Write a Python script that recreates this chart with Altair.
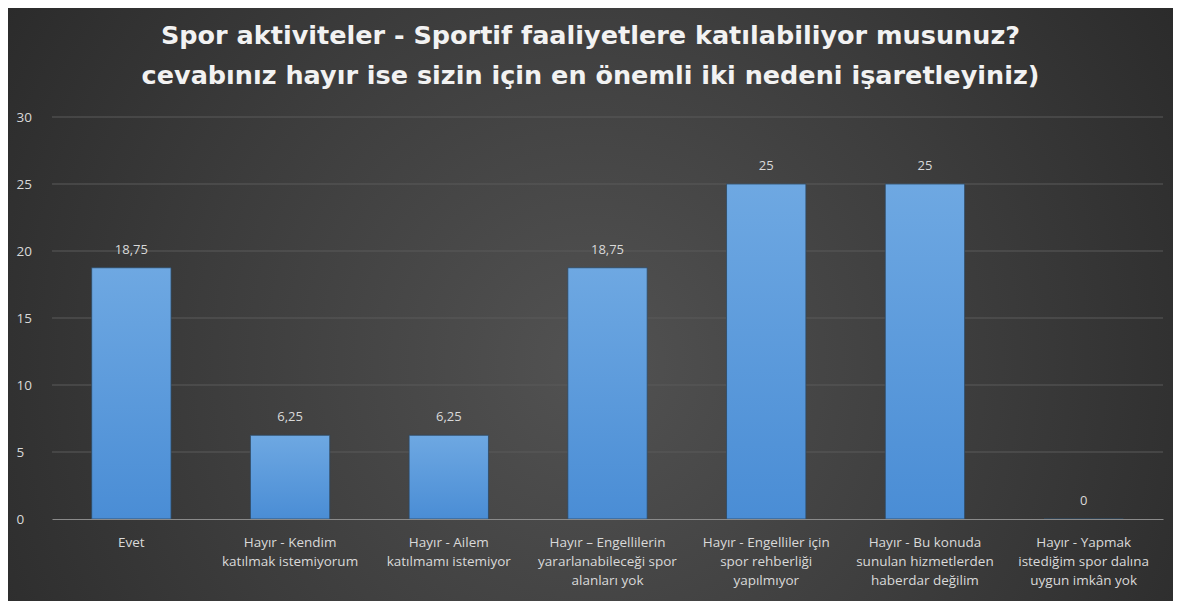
import altair as alt
import pandas as pd

# ---- data ----
categories = [
    "Evet",
    "Hayır - Kendim|katılmak istemiyorum",
    "Hayır - Ailem|katılmamı istemiyor",
    "Hayır – Engellilerin|yararlanabileceği spor|alanları yok",
    "Hayır - Engelliler için|spor rehberliği|yapılmıyor",
    "Hayır - Bu konuda|sunulan hizmetlerden|haberdar değilim",
    "Hayır - Yapmak|istediğim spor dalına|uygun imkân yok",
]
values = [18.75, 6.25, 6.25, 18.75, 25, 25, 0]
y_ticks = [0, 5, 10, 15, 20, 25, 30]
title_lines = [
    "Spor aktiviteler - Sportif faaliyetlere katılabiliyor musunuz?",
    "cevabınız hayır ise sizin için en önemli iki nedeni işaretleyiniz)",
]

# ---- layout ----
W, H = 1111, 402
PL, PT, PR, PB = 44, 109, 10, 82
FONT = "Open Sans"
TXT = "#d9d9d9"

df = pd.DataFrame({"cat": categories, "value": values})
grid_df = pd.DataFrame({"value": y_ticks[1:]})
bg_df = pd.DataFrame({"k": [0]})

x_scale = alt.Scale(paddingInner=0.5, paddingOuter=0.25)
y_scale = alt.Scale(domain=[0, 30], nice=False)

y_axis = alt.Axis(
    title=None, values=y_ticks, grid=False, domain=False,
    ticks=False, tickSize=0, labelAlign="left", labelPadding=36,
    labelColor=TXT, labelFont=FONT, labelFontSize=13.5, zindex=1,
)
x_axis = alt.Axis(
    title=None, labelAngle=0, labelExpr="split(datum.label, '|')",
    labelColor=TXT, labelFont=FONT, labelFontSize=13.5,
    labelLineHeight=19, labelBaseline="top", labelPadding=16,
    labelLimit=0, ticks=False, tickSize=0,
    domainColor="#8a8a8a", domainWidth=1, grid=False, zindex=1,
)

bg = alt.Chart(bg_df).mark_rect(
    fill=alt.RadialGradient(
        gradient="radial",
        stops=[alt.GradientStop(color="#525252", offset=0),
               alt.GradientStop(color="#3c3c3c", offset=0.45),
               alt.GradientStop(color="#202020", offset=1)],
        x1=0.5, y1=0.55, r1=0, x2=0.5, y2=0.55, r2=0.75,
    )
).encode(
    x=alt.value(-PL), x2=alt.value(W + PR),
    y=alt.value(-PT), y2=alt.value(H + PB),
)

grid = alt.Chart(grid_df).mark_rule(color="#5a5a5a", strokeWidth=1).encode(
    y=alt.Y("value:Q", scale=y_scale, axis=y_axis)
)

bars = alt.Chart(df).mark_bar(
    fill=alt.LinearGradient(
        gradient="linear",
        stops=[alt.GradientStop(color="#6ea8e2", offset=0),
               alt.GradientStop(color="#4a8dd5", offset=1)],
        x1=0, x2=0, y1=0, y2=1,
    ),
    stroke="#2e4862", strokeWidth=1, strokeOpacity=0.8,
).encode(
    x=alt.X("cat:N", sort=categories, scale=x_scale, axis=x_axis),
    y=alt.Y("value:Q", scale=y_scale, axis=y_axis),
)

labels = alt.Chart(df).transform_calculate(
    lbl="replace(toString(datum.value), '.', ',')"
).mark_text(
    dy=-18, color=TXT, font=FONT, fontSize=13, baseline="middle"
).encode(
    x=alt.X("cat:N", sort=categories, scale=x_scale, axis=x_axis),
    y=alt.Y("value:Q", scale=y_scale, axis=y_axis),
    text="lbl:N",
)

chart = alt.layer(bg, grid, bars, labels).properties(
    width=W, height=H,
    padding={"left": PL, "top": PT, "right": PR, "bottom": PB},
    autosize=alt.AutoSizeParams(type="none"),
    background="#262626",
    title=alt.TitleParams(
        text=title_lines, font="DejaVu Sans", fontSize=25.5, fontWeight="bold",
        color="#f2f2f2", anchor="middle", frame="group", baseline="alphabetic",
        offset=-101, dx=-17, lineHeight=40, zindex=1,
    ),
).configure_view(stroke=None)

chart.save("out.html", embed_options={"renderer": "svg", "actions": False})
